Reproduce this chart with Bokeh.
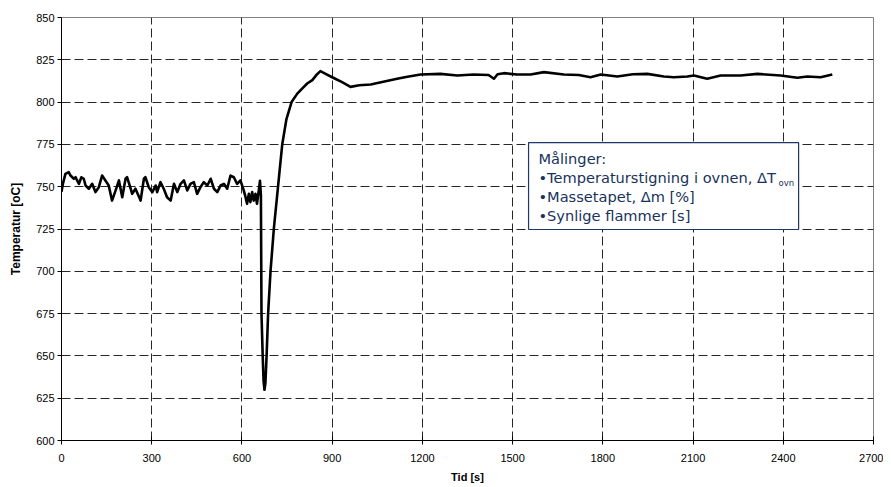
from bokeh.plotting import figure
from bokeh.models import Range1d, SingleIntervalTicker, BoxAnnotation, Label
from bokeh.embed import file_html
from bokeh.resources import INLINE

# --- data ---
time_s = [0, 5, 13, 24, 30, 41, 47, 52, 58, 66, 74, 80, 91, 102, 113, 124, 135, 146, 157,
          168, 180, 191, 202, 213, 218, 230, 235, 246, 263, 274, 279, 290, 302, 313,
          318, 329, 340, 351, 363, 374, 385, 396, 407, 418, 429, 440, 451, 462, 473,
          485, 496, 507, 518, 529, 540, 551, 562, 573, 584, 595, 606, 612, 617, 623,
          628, 634, 639, 645, 650, 656, 660, 663, 665, 669, 672, 675, 678, 682, 687,
          695, 706, 720, 734, 748, 765, 784, 800, 817, 834, 850, 861, 875, 900, 933,
          961, 990, 1028, 1070, 1116, 1150, 1194, 1260, 1316, 1371, 1420, 1438, 1450,
          1471, 1515, 1560, 1604, 1670, 1720, 1759, 1793, 1848, 1900, 1948, 2003, 2036,
          2081, 2103, 2147, 2192, 2258, 2314, 2391, 2447, 2480, 2524, 2563]
temp_c = [747.0, 752.0, 757.6, 758.6, 756.6, 754.7, 755.6, 753.7, 751.7, 755.6, 754.7,
          750.7, 748.8, 751.7, 746.8, 749.7, 756.6, 753.7, 750.7, 741.8, 747.8, 753.7,
          743.8, 754.7, 755.6, 748.8, 745.8, 748.8, 741.8, 754.7, 755.6, 749.7, 746.8,
          750.7, 746.8, 752.7, 748.8, 743.8, 741.8, 751.7, 746.8, 751.7, 753.7, 747.8,
          751.7, 752.7, 745.8, 749.7, 752.7, 750.7, 754.7, 748.8, 746.8, 750.7, 751.7,
          748.8, 756.6, 755.6, 751.7, 753.7, 747.8, 743.8, 739.9, 745.8, 740.9, 746.8,
          741.8, 745.8, 739.9, 747.8, 753.5, 745.0, 675.0, 650.0, 635.0, 630.0, 634.0,
          650.0, 675.0, 700.0, 725.0, 750.0, 775.0, 790.0, 800.0, 805.0, 808.0, 811.0,
          813.0, 816.5, 818.3, 817.0, 814.7, 811.8, 809.0, 810.0, 810.4, 812.0, 813.8,
          815.0, 816.3, 816.7, 815.7, 816.3, 816.0, 813.8, 816.5, 817.1, 816.3, 816.3,
          817.7, 816.3, 816.0, 814.7, 816.3, 815.1, 816.5, 816.7, 815.1, 814.7, 815.1,
          815.7, 813.8, 815.7, 815.7, 816.7, 815.7, 814.4, 815.1, 814.7, 816.3]

x_label = "Tid [s]"
y_label = "Temperatur [oC]"
note_lines = ["Målinger:", "•Temperaturstigning i ovnen, ΔT", "•Massetapet, Δm [%]", "•Synlige flammer [s]"]
note_sub = "ovn"

p = figure(width=883, height=487, output_backend="svg", toolbar_location=None,
           x_range=Range1d(0, 2700), y_range=Range1d(600, 850),
           min_border_left=61, min_border_right=10, min_border_top=17, min_border_bottom=47)

p.outline_line_color = "#808080"
p.outline_line_width = 1
p.background_fill_color = "white"
p.border_fill_color = "white"

p.xaxis.ticker = SingleIntervalTicker(interval=300)
p.yaxis.ticker = SingleIntervalTicker(interval=25)
p.xgrid.ticker = SingleIntervalTicker(interval=300)
p.ygrid.ticker = SingleIntervalTicker(interval=25)

for g in (p.xgrid, p.ygrid):
    g.grid_line_color = "#000000"
    g.grid_line_dash = "9 4"
    g.grid_line_width = 1
    g.grid_line_alpha = 0.85

for ax in (p.xaxis, p.yaxis):
    ax.axis_line_color = "#000000"
    ax.axis_line_width = 1
    ax.major_tick_line_color = "#000000"
    ax.minor_tick_line_color = None
    ax.major_label_text_font = "Liberation Sans"
    ax.major_label_text_font_size = "11px"
    ax.major_label_text_color = "#000000"
    ax.axis_label_text_font = "Liberation Sans"
    ax.axis_label_text_font_style = "bold"
    ax.axis_label_text_color = "#000000"

p.xaxis.axis_label = x_label
p.yaxis.axis_label = y_label
p.xaxis.axis_label_text_font_size = "11px"
p.yaxis.axis_label_text_font_size = "12px"
p.xaxis.major_tick_in = 4
p.xaxis.major_tick_out = 4
p.yaxis.major_tick_in = 0
p.yaxis.major_tick_out = 4
p.xaxis.major_label_standoff = 9
p.xaxis.axis_label_standoff = 6
p.yaxis.major_label_standoff = 3
p.yaxis.axis_label_standoff = 10

p.line(time_s, temp_c, line_color="#000000", line_width=2.6, line_join="round")

# annotation box
box = BoxAnnotation(left=1553, right=2451, bottom=724.7, top=776.1,
                    fill_color="white", fill_alpha=1.0,
                    line_color="#1F3864", line_alpha=1.0, line_width=1.2, level="overlay")
p.add_layout(box)

note_y = [766.5, 755.3, 744.0, 732.8]
for txt, yy in zip(note_lines, note_y):
    p.add_layout(Label(x=1586, y=yy, text=txt, text_font="DejaVu Sans",
                       text_font_size="14.6px", text_color="#17325C",
                       text_baseline="middle", text_align="left", level="overlay"))
p.add_layout(Label(x=2384, y=752.4, text=note_sub, text_font="DejaVu Sans",
                   text_font_size="8.5px", text_color="#17325C",
                   text_baseline="middle", text_align="left", level="overlay"))

open("out.html", "w").write(file_html(p, INLINE))
